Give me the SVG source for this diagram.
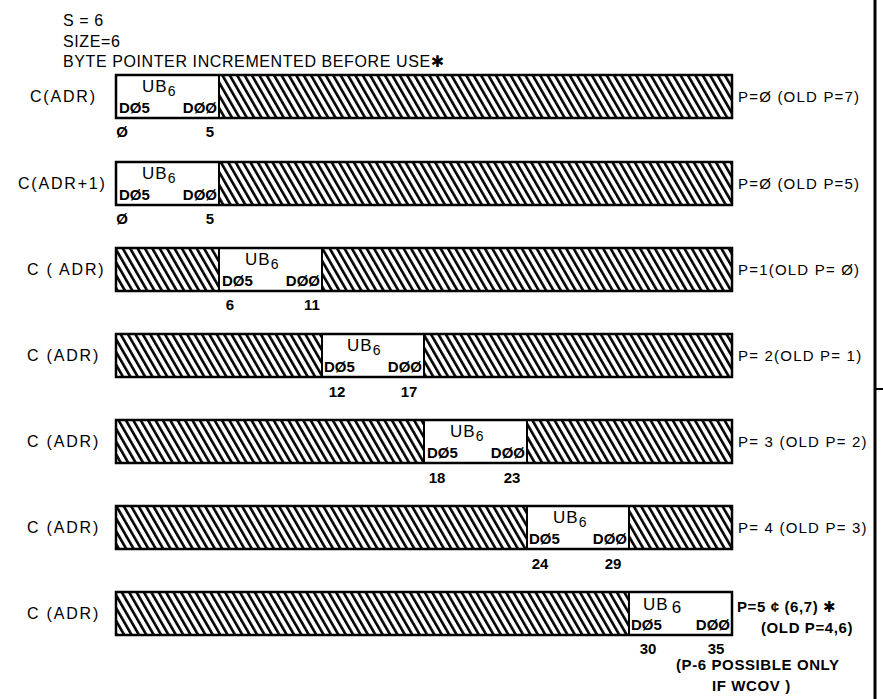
<svg xmlns="http://www.w3.org/2000/svg" width="883" height="699" viewBox="0 0 883 699">
<defs>
<pattern id="hatch" patternUnits="userSpaceOnUse" width="6.4" height="20" patternTransform="rotate(-30)">
<rect x="0" y="0" width="2.6" height="20" fill="#000"/>
</pattern>
</defs>
<style>
text{font-family:"Liberation Sans","DejaVu Sans",sans-serif;fill:#000}
.lbl{font-size:16px;letter-spacing:1.8px}
.hdr{font-size:16px;letter-spacing:0.6px}
.ub{font-size:17px;letter-spacing:1px}
.sub{font-size:14px}
.d{font-size:15px;font-weight:bold}
.num{font-size:15px;font-weight:bold}
.r{font-size:15px;letter-spacing:1.2px}
.rb{font-size:15px;font-weight:bold;letter-spacing:0.6px}
.bar{fill:url(#hatch)}
.field{fill:#fff}
.out{fill:none;stroke:#000;stroke-width:2.5}
.edge{stroke:#000;stroke-width:2}
</style>
<rect width="883" height="699" fill="#fff"/>
<g id="header">
<text class="hdr" x="63" y="26">S = 6</text>
<text class="hdr" x="63" y="47">SIZE=6</text>
<text class="hdr" x="63" y="67">BYTE POINTER INCREMENTED BEFORE USE<tspan font-family="DejaVu Sans" font-weight="bold">✱</tspan></text>
</g>
<g id="frame">
<line x1="875" y1="0" x2="875" y2="699" stroke="#000" stroke-width="3"/>
<line x1="875" y1="389" x2="883" y2="389" stroke="#000" stroke-width="2"/>
</g>
<g id="row1">
<rect class="bar" x="116" y="75" width="616" height="43"/>
<rect class="field" x="116" y="75" width="103" height="43"/>
<rect class="out" x="116" y="75" width="616" height="43"/>
<line class="edge" x1="219" y1="75" x2="219" y2="118"/>
<text class="lbl" x="30" y="102">C(ADR)</text>
<text class="ub" x="142" y="92">UB<tspan class="sub" dy="4">6</tspan></text>
<text class="d" x="119" y="113">DØ5</text>
<text class="d" x="217" y="113" text-anchor="end">DØØ</text>
<text class="num" x="122" y="137" text-anchor="middle">Ø</text>
<text class="num" x="210" y="137" text-anchor="middle">5</text>
<text class="r" x="738" y="102">P=Ø (OLD P=7)</text>
</g>
<g id="row2">
<rect class="bar" x="116" y="162" width="616" height="43"/>
<rect class="field" x="116" y="162" width="103" height="43"/>
<rect class="out" x="116" y="162" width="616" height="43"/>
<line class="edge" x1="219" y1="162" x2="219" y2="205"/>
<text class="lbl" x="18" y="189">C(ADR+1)</text>
<text class="ub" x="142" y="179">UB<tspan class="sub" dy="4">6</tspan></text>
<text class="d" x="119" y="200">DØ5</text>
<text class="d" x="217" y="200" text-anchor="end">DØØ</text>
<text class="num" x="122" y="224" text-anchor="middle">Ø</text>
<text class="num" x="210" y="224" text-anchor="middle">5</text>
<text class="r" x="738" y="189">P=Ø (OLD P=5)</text>
</g>
<g id="row3">
<rect class="bar" x="116" y="248" width="616" height="43"/>
<rect class="field" x="219" y="248" width="103" height="43"/>
<rect class="out" x="116" y="248" width="616" height="43"/>
<line class="edge" x1="219" y1="248" x2="219" y2="291"/>
<line class="edge" x1="322" y1="248" x2="322" y2="291"/>
<text class="lbl" x="27" y="275">C ( ADR)</text>
<text class="ub" x="245" y="265">UB<tspan class="sub" dy="4">6</tspan></text>
<text class="d" x="222" y="286">DØ5</text>
<text class="d" x="320" y="286" text-anchor="end">DØØ</text>
<text class="num" x="230" y="310" text-anchor="middle">6</text>
<text class="num" x="312" y="310" text-anchor="middle">11</text>
<text class="r" x="738" y="275">P=1(OLD P= Ø)</text>
</g>
<g id="row4">
<rect class="bar" x="116" y="334" width="616" height="43"/>
<rect class="field" x="322" y="334" width="102" height="43"/>
<rect class="out" x="116" y="334" width="616" height="43"/>
<line class="edge" x1="322" y1="334" x2="322" y2="377"/>
<line class="edge" x1="424" y1="334" x2="424" y2="377"/>
<text class="lbl" x="27" y="361">C (ADR)</text>
<text class="ub" x="347" y="351">UB<tspan class="sub" dy="4">6</tspan></text>
<text class="d" x="324" y="372">DØ5</text>
<text class="d" x="422" y="372" text-anchor="end">DØØ</text>
<text class="num" x="337" y="397" text-anchor="middle">12</text>
<text class="num" x="409" y="397" text-anchor="middle">17</text>
<text class="r" x="738" y="361">P= 2(OLD P= 1)</text>
</g>
<g id="row5">
<rect class="bar" x="116" y="420" width="616" height="43"/>
<rect class="field" x="424" y="420" width="103" height="43"/>
<rect class="out" x="116" y="420" width="616" height="43"/>
<line class="edge" x1="424" y1="420" x2="424" y2="463"/>
<line class="edge" x1="527" y1="420" x2="527" y2="463"/>
<text class="lbl" x="27" y="447">C (ADR)</text>
<text class="ub" x="450" y="437">UB<tspan class="sub" dy="4">6</tspan></text>
<text class="d" x="427" y="458">DØ5</text>
<text class="d" x="525" y="458" text-anchor="end">DØØ</text>
<text class="num" x="437" y="483" text-anchor="middle">18</text>
<text class="num" x="512" y="483" text-anchor="middle">23</text>
<text class="r" x="738" y="447">P= 3 (OLD P= 2)</text>
</g>
<g id="row6">
<rect class="bar" x="116" y="506" width="616" height="43"/>
<rect class="field" x="527" y="506" width="102" height="43"/>
<rect class="out" x="116" y="506" width="616" height="43"/>
<line class="edge" x1="527" y1="506" x2="527" y2="549"/>
<line class="edge" x1="629" y1="506" x2="629" y2="549"/>
<text class="lbl" x="27" y="533">C (ADR)</text>
<text class="ub" x="553" y="523">UB<tspan class="sub" dy="4">6</tspan></text>
<text class="d" x="529" y="544">DØ5</text>
<text class="d" x="627" y="544" text-anchor="end">DØØ</text>
<text class="num" x="540" y="569" text-anchor="middle">24</text>
<text class="num" x="613" y="569" text-anchor="middle">29</text>
<text class="r" x="738" y="533">P= 4 (OLD P= 3)</text>
</g>
<g id="row7">
<rect class="bar" x="116" y="592" width="616" height="43"/>
<rect class="field" x="629" y="592" width="103" height="43"/>
<rect class="out" x="116" y="592" width="616" height="43"/>
<line class="edge" x1="629" y1="592" x2="629" y2="635"/>
<text class="lbl" x="27" y="619">C (ADR)</text>
<text class="ub" x="643" y="610">UB<tspan font-size="17" dx="3" dy="3">6</tspan></text>
<text class="d" x="631" y="630">DØ5</text>
<text class="d" x="730" y="630" text-anchor="end">DØØ</text>
<text class="num" x="648" y="654" text-anchor="middle">30</text>
<text class="num" x="716" y="654" text-anchor="middle">35</text>
<text class="rb" x="737" y="612">P=5 ¢ (6,7) <tspan font-family="DejaVu Sans">✱</tspan></text>
<text class="rb" x="761" y="633">(OLD P=4,6)</text>
</g>
<g id="note">
<text class="rb" x="676" y="670">(P-6 POSSIBLE ONLY</text>
<text class="rb" x="712" y="691">IF WCOV )</text>
</g>
<g id="connectors"></g>
</svg>
